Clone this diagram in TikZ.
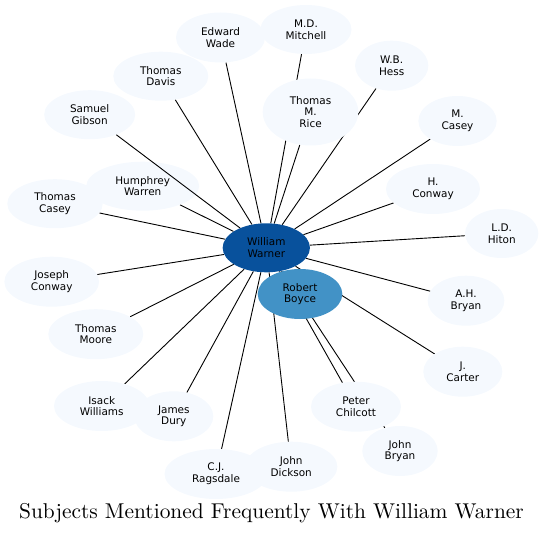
\documentclass[tikz,border=0pt]{standalone}
\usepackage{fontspec}
\newfontfamily\nodefont{DejaVu Sans}
\newfontfamily\titlefont{lmroman10-regular.otf}
\usetikzlibrary{shapes.geometric,backgrounds}
\definecolor{leaffill}{HTML}{F5F9FE}
\definecolor{wwfill}{HTML}{08519C}
\definecolor{rbfill}{HTML}{4292C6}
\tikzset{
  person/.style={ellipse, inner sep=0pt, align=center, draw=none,
    font=\nodefont\fontsize{10.5}{11.7}\selectfont, text=black},
  leaf/.style={person, fill=leaffill},
  sz/.style 2 args={minimum width=#1bp, minimum height=#2bp},
  link/.style={draw=black, line width=0.9bp},
}
\begin{document}
\begin{tikzpicture}[x=1bp,y=-1bp]
\useasboundingbox (0,0) rectangle (543,535);
% nodes
\node[leaf, sz={89}{50}]   (ew)  at (220.5,37.5)  {Edward\\Wade};
\node[leaf, sz={91}{49}]   (mdm) at (306,29.5)    {M.D.\\Mitchell};
\node[leaf, sz={95}{49}]   (td)  at (160.8,76.2)  {Thomas\\Davis};
\node[leaf, sz={91}{49}]   (sg)  at (89.7,114.7)  {Samuel\\Gibson};
\node[leaf, sz={95.4}{49}] (tc)  at (55,203.7)    {Thomas\\Casey};
\node[leaf, sz={113}{49}]  (hw)  at (142.7,186.2) {Humphrey\\Warren};
\node[leaf, sz={95.6}{67}] (tmr) at (310.5,112)   {Thomas\\M.\\Rice};
\node[leaf, sz={73.3}{50}] (wbh) at (391.7,65.7)  {W.B.\\Hess};
\node[leaf, sz={78.3}{50}] (mc)  at (457.5,121)   {M.\\Casey};
\node[leaf, sz={94}{50}]   (hc)  at (433,189)     {H.\\Conway};
\node[leaf, sz={73.3}{49}] (ldh) at (501.7,233.5) {L.D.\\Hiton};
\node[leaf, sz={76.7}{50}] (ahb) at (466,300.7)   {A.H.\\Bryan};
\node[leaf, sz={79}{50}]   (jc)  at (462.8,371.7) {J.\\Carter};
\node[leaf, sz={90}{50}]   (pc)  at (356,406.7)   {Peter\\Chilcott};
\node[leaf, sz={75.4}{50}] (jb)  at (400,451)     {John\\Bryan};
\node[leaf, sz={103}{50}]  (cjr) at (216,474)     {C.J.\\Ragsdale};
\node[leaf, sz={92.3}{50}] (jd)  at (291.2,466.7) {John\\Dickson};
\node[leaf, sz={95.4}{50}] (iw)  at (101.7,406)   {Isack\\Williams};
\node[leaf, sz={79}{50}]   (jdu) at (173.8,416.3) {James\\Dury};
\node[leaf, sz={95}{50}]   (tm)  at (95.8,334.2)  {Thomas\\Moore};
\node[leaf, sz={94.7}{50}] (jco) at (51.7,281.7)  {Joseph\\Conway};
\node[person, fill=wwfill, sz={87.3}{49}] (ww) at (266.3,247.8) {William\\Warner};
\node[person, fill=rbfill, sz={84.6}{50}] (rb) at (300,294) {Robert\\Boyce};
% edges behind the nodes
\begin{pgfonlayer}{background}
  \foreach \t in {ew,mdm,td,hw,tc,tmr,wbh,mc,hc,ldh,ahb,jc,pc,jb,jd,cjr,jdu,iw,tm,jco}
    \draw[link] (ww) -- (\t);
\end{pgfonlayer}
% edge drawn over a node
\draw[link] (ww) -- (sg);
% title
\node[anchor=base, font=\titlefont\fontsize{21.5}{25}\selectfont] (title) at (271.5,518.7)
  {Subjects Mentioned Frequently With William Warner};
\end{tikzpicture}
\end{document}
